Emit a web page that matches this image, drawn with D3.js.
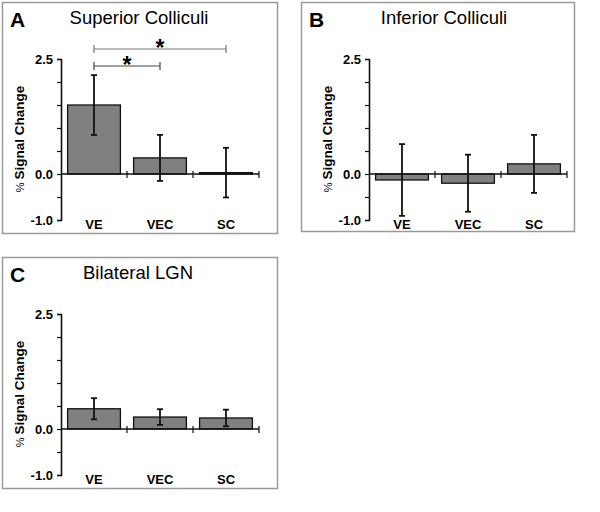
<!DOCTYPE html>
<html>
<head>
<meta charset="utf-8">
<script src="https://cdn.jsdelivr.net/npm/d3@7"></script>
<style>
  body { margin: 0; background: #fff; }
  svg { display: block; }
</style>
</head>
<body>
<svg id="fig" width="600" height="512"></svg>
<script>
const categories = ["VE", "VEC", "SC"];
const yTicks = [-1.0, 0.0, 2.5];
const yMinor = [-1.0, -0.5, 0, 0.5, 1.0, 1.5, 2.0, 2.5];

// mean and error (+/-) per panel
const scMeans = [1.5, 0.35, 0.03];
const scErrors = [0.65, 0.5, 0.54];
const icMeans = [-0.13, -0.2, 0.22];
const icErrors = [0.78, 0.62, 0.63];
const lgnMeans = [0.44, 0.26, 0.24];
const lgnErrors = [0.23, 0.17, 0.18];

// significance brackets for panel A: [from, to]
const scSig = [["VE", "SC"], ["VE", "VEC"]];

const svg = d3.select("svg#fig");
const FONT = "Arial, 'Liberation Sans', sans-serif";

const panels = [
	{ letter: "A", title: "Superior Colliculi", means: scMeans, errors: scErrors, sig: scSig,
		box: { x: 2, y: 2, w: 275, h: 231 }, axisX: 61, top: 59, titleX: 139 },
	{ letter: "B", title: "Inferior Colliculi", means: icMeans, errors: icErrors, sig: [],
		box: { x: 301, y: 2, w: 273, h: 229 }, axisX: 369, top: 59, titleX: 444 },
	{ letter: "C", title: "Bilateral LGN", means: lgnMeans, errors: lgnErrors, sig: [],
		box: { x: 2, y: 257, w: 275, h: 231 }, axisX: 61, top: 314, titleX: 138 }
];

panels.forEach(function (p) {
	drawPanel(p);
});

function drawPanel(p) {
	const g = svg.append("g");

	// frame
	g.append("rect")
		.attr("x", p.box.x + 0.5)
		.attr("y", p.box.y + 0.5)
		.attr("width", p.box.w)
		.attr("height", p.box.h)
		.attr("fill", "none")
		.attr("stroke", "#9a9a9a")
		.attr("stroke-width", 1.5);

	const y = d3.scaleLinear().domain([-1, 2.5]).range([p.top + 161, p.top]);
	const x = d3.scaleBand().domain(categories).range([p.axisX, p.axisX + 198]).paddingInner(0.2).paddingOuter(0.1);
	const xb = d3.scaleBand().domain(categories).range([p.axisX, p.axisX + 198]);

	// letter + title
	g.append("text")
		.attr("x", p.box.x + 8)
		.attr("y", p.box.y + 25)
		.style("font", "bold 21px " + FONT)
		.text(p.letter);
	g.append("text")
		.attr("x", p.titleX)
		.attr("y", p.box.y + 22)
		.attr("text-anchor", "middle")
		.style("font", "18.5px " + FONT)
		.text(p.title);

	// bars
	categories.forEach(function (c, i) {
		const m = p.means[i];
		g.append("rect")
			.attr("x", x(c))
			.attr("y", y(Math.max(0, m)))
			.attr("width", x.bandwidth())
			.attr("height", Math.max(1.5, Math.abs(y(m) - y(0))))
			.attr("fill", "#808080")
			.attr("stroke", "#111")
			.attr("stroke-width", 1.3);
	});

	// error bars
	categories.forEach(function (c, i) {
		const cx = x(c) + x.bandwidth() / 2;
		const hi = y(p.means[i] + p.errors[i]);
		const lo = y(p.means[i] - p.errors[i]);
		g.append("line").attr("x1", cx).attr("x2", cx).attr("y1", hi).attr("y2", lo)
			.attr("stroke", "#111").attr("stroke-width", 1.8);
		[hi, lo].forEach(function (v) {
			g.append("line").attr("x1", cx - 3).attr("x2", cx + 3).attr("y1", v).attr("y2", v)
				.attr("stroke", "#111").attr("stroke-width", 1.8);
		});
	});

	// y axis
	const yAxis = d3.axisLeft(y).tickValues(yMinor).tickSize(4).tickFormat("");
	const ya = g.append("g").attr("transform", `translate(${p.axisX},0)`).call(yAxis);
	ya.select(".domain").attr("stroke", "#111").attr("stroke-width", 1.6);
	ya.selectAll(".tick line").attr("stroke", "#111").attr("stroke-width", 1.2);

	yTicks.forEach(function (t) {
		g.append("text")
			.attr("x", p.axisX - 8)
			.attr("y", y(t))
			.attr("dy", "0.35em")
			.attr("text-anchor", "end")
			.style("font", "bold 13px " + FONT)
			.text(t.toFixed(1));
	});

	// x axis at zero
	g.append("line")
		.attr("x1", p.axisX).attr("x2", p.axisX + 198)
		.attr("y1", y(0)).attr("y2", y(0))
		.attr("stroke", "#111").attr("stroke-width", 1.6);
	categories.forEach(function (c) {
		const bx = xb(c) + xb.bandwidth();
		g.append("line").attr("x1", bx).attr("x2", bx).attr("y1", y(0) - 3).attr("y2", y(0) + 4)
			.attr("stroke", "#111").attr("stroke-width", 1.2);
		g.append("text")
			.attr("x", x(c) + x.bandwidth() / 2)
			.attr("y", y(-1) + 9)
			.attr("text-anchor", "middle")
			.style("font", "bold 13px " + FONT)
			.text(c);
	});

	// y label
	const lab = g.append("text")
		.attr("transform", `translate(${p.axisX - 37},${p.top + 80}) rotate(-90)`)
		.attr("text-anchor", "middle")
		.style("font", "bold 13.5px " + FONT);
	lab.append("tspan").style("font-weight", "normal").style("font-size", "11px").text("% ");
	lab.append("tspan").text("Signal Change");

	// significance brackets
	p.sig.forEach(function (s, k) {
		const x1 = x(s[0]) + x.bandwidth() / 2;
		const x2 = x(s[1]) + x.bandwidth() / 2;
		const by = p.top - 10 + k * 17;
		const col = k === 0 ? "#777" : "#444";
		g.append("path")
			.attr("d", `M${x1},${by - 4}V${by + 4}M${x1},${by}H${x2}M${x2},${by - 4}V${by + 4}`)
			.attr("fill", "none")
			.attr("stroke", col)
			.attr("stroke-width", 1.2);
		g.append("text")
			.attr("x", (x1 + x2) / 2)
			.attr("y", by + 7)
			.attr("text-anchor", "middle")
			.style("font", "bold 23px " + FONT)
			.text("*");
	});
}
</script>
</body>
</html>
